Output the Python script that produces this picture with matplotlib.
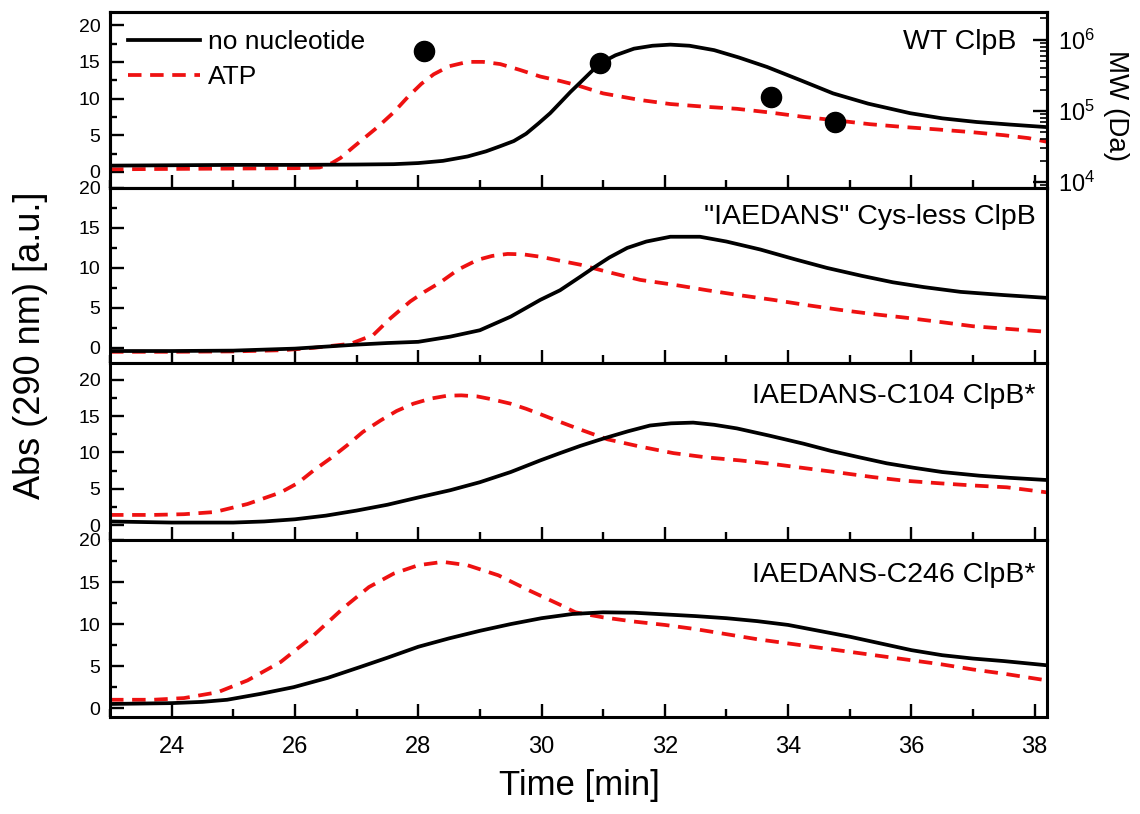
import matplotlib
matplotlib.use("Agg")
import matplotlib.pyplot as plt
from matplotlib.ticker import MultipleLocator, LogLocator, NullFormatter, FixedLocator

plt.rcParams['font.family'] = ['Liberation Sans', 'DejaVu Sans']
plt.rcParams['mathtext.default'] = 'regular'

# ---- elution profiles (time in min, absorbance at 290 nm in a.u.) ----
wt_none_t = [23.0, 24, 25, 26, 27, 27.6, 28.0, 28.4, 28.8, 29.1, 29.33, 29.55, 29.75, 29.95,
             30.14, 30.3, 30.47, 30.63, 30.8, 30.95, 31.2, 31.5, 31.8, 32.09, 32.4, 32.8, 33.2,
             33.66, 34.2, 34.73, 35.3, 35.98, 36.5, 37.06, 37.6, 38.2]
wt_none_a = [0.85, 0.9, 0.95, 0.95, 1.0, 1.05, 1.2, 1.5, 2.1, 2.8, 3.5, 4.2, 5.2, 6.6,
             8.0, 9.4, 10.9, 12.2, 13.6, 14.8, 15.9, 16.8, 17.2, 17.35, 17.2, 16.6, 15.6,
             14.3, 12.5, 10.7, 9.3, 8.0, 7.3, 6.8, 6.45, 6.1]
wt_atp_t = [23.0, 24, 25, 26, 26.4, 26.6, 26.74, 26.95, 27.34, 27.6, 27.83, 28.05, 28.25, 28.5,
            28.8, 29.05, 29.33, 29.65, 29.98, 30.3, 30.58, 31.0, 31.6, 32.09, 32.62, 33.17, 33.7,
            34.25, 34.8, 35.33, 35.9, 36.4, 37.0, 37.5, 37.9, 38.2]
wt_atp_a = [0.35, 0.4, 0.45, 0.5, 0.6, 1.2, 1.9, 3.4, 6.1, 8.1, 10.2, 12.0, 13.3, 14.4,
            15.0, 15.0, 14.7, 13.9, 13.0, 12.4, 11.8, 10.7, 9.8, 9.25, 8.9, 8.6, 8.1,
            7.5, 7.0, 6.5, 6.1, 5.8, 5.4, 5.0, 4.6, 4.1]

cysless_none_t = [23.0, 24, 25, 26, 26.5, 27.0, 27.5, 28.0, 28.52, 29.0, 29.5, 29.98, 30.3, 30.63,
                  30.84, 31.1, 31.39, 31.7, 32.09, 32.57, 33.0, 33.55, 34.1, 34.63, 35.2, 35.7,
                  36.2, 36.8, 37.5, 38.2]
cysless_none_a = [-0.4, -0.4, -0.35, -0.1, 0.15, 0.4, 0.6, 0.75, 1.4, 2.2, 3.9, 6.0, 7.2, 8.9,
                  10.0, 11.3, 12.5, 13.3, 13.9, 13.9, 13.3, 12.3, 11.1, 10.0, 9.0, 8.2,
                  7.6, 7.0, 6.6, 6.25]
cysless_atp_t = [23.0, 24, 25, 25.8, 26.3, 26.9, 27.27, 27.55, 27.87, 28.1, 28.36, 28.65, 28.96,
                 29.2, 29.45, 29.7, 29.98, 30.3, 30.63, 31.07, 31.6, 32.14, 32.69, 33.2, 33.76,
                 34.3, 34.84, 35.4, 35.93, 36.5, 37.0, 37.6, 38.2]
cysless_atp_a = [-0.5, -0.5, -0.45, -0.3, 0.0, 0.5, 1.6, 3.7, 5.8, 7.0, 8.2, 9.8, 11.0,
                 11.5, 11.75, 11.7, 11.4, 10.9, 10.4, 9.5, 8.5, 7.9, 7.2, 6.6, 6.0,
                 5.35, 4.75, 4.2, 3.75, 3.2, 2.7, 2.35, 2.0]

c104_none_t = [23.0, 24, 25.0, 25.5, 26.0, 26.5, 27.0, 27.5, 28.0, 28.52, 29.0, 29.5, 29.98, 30.3,
               30.63, 31.0, 31.4, 31.76, 32.1, 32.46, 32.8, 33.17, 33.7, 34.25, 34.7, 35.17, 35.6,
               36.03, 36.5, 37.1, 37.6, 38.2]
c104_none_a = [0.5, 0.35, 0.35, 0.5, 0.8, 1.3, 2.0, 2.8, 3.8, 4.8, 5.9, 7.3, 8.9, 9.9,
               10.9, 11.9, 12.9, 13.7, 14.0, 14.1, 13.8, 13.3, 12.3, 11.2, 10.2, 9.3, 8.5,
               7.9, 7.3, 6.8, 6.5, 6.2]
c104_atp_t = [23.0, 23.7, 24.2, 24.7, 25.23, 25.77, 26.05, 26.3, 26.58, 26.85, 27.1, 27.39, 27.65,
              27.92, 28.2, 28.47, 28.7, 28.96, 29.2, 29.5, 29.75, 30.03, 30.3, 30.58, 31.07, 31.6,
              32.14, 32.69, 33.22, 33.76, 34.3, 34.85, 35.38, 35.9, 36.46, 37.0, 37.55, 38.2]
c104_atp_a = [1.4, 1.4, 1.5, 1.8, 2.9, 4.5, 5.8, 7.5, 9.2, 11.0, 12.8, 14.4, 15.7,
              16.7, 17.4, 17.8, 17.85, 17.7, 17.3, 16.7, 16.0, 15.1, 14.2, 13.3, 11.8, 10.8,
              9.9, 9.3, 8.9, 8.4, 7.8, 7.2, 6.6, 6.1, 5.75, 5.45, 5.2, 4.5]

c246_none_t = [23.0, 23.5, 24.0, 24.5, 24.9, 25.44, 25.98, 26.53, 27.06, 27.5, 28.0, 28.5, 29.0,
               29.5, 30.0, 30.5, 31.0, 31.5, 32.0, 32.5, 33.0, 33.5, 34.0, 34.5, 35.0, 35.5,
               36.0, 36.5, 37.0, 37.5, 38.2]
c246_none_a = [0.5, 0.55, 0.6, 0.75, 1.0, 1.7, 2.5, 3.6, 4.9, 6.0, 7.3, 8.3, 9.2,
               10.0, 10.7, 11.2, 11.4, 11.35, 11.15, 10.95, 10.7, 10.35, 9.9, 9.2, 8.5, 7.7,
               6.9, 6.3, 5.9, 5.6, 5.1]
c246_atp_t = [23.0, 23.7, 24.2, 24.75, 25.23, 25.77, 26.25, 26.8, 27.2, 27.6, 28.0, 28.4, 28.8,
              29.3, 29.8, 30.3, 30.55, 31.0, 31.5, 32.0, 32.5, 33.0, 33.5, 34.0, 34.5, 35.0,
              35.5, 36.0, 36.5, 37.0, 37.5, 38.2]
c246_atp_a = [1.0, 1.0, 1.2, 1.9, 3.3, 5.5, 8.3, 12.0, 14.4, 16.0, 17.0, 17.4, 17.0,
              15.8, 14.0, 12.3, 11.4, 10.8, 10.3, 9.9, 9.4, 8.8, 8.2, 7.7, 7.2, 6.7,
              6.2, 5.7, 5.2, 4.6, 4.1, 3.3]

# molecular weight of WT ClpB fractions (Da)
mw_t = [28.1, 30.95, 33.72, 34.76]
mw_da = [7.0e5, 4.74e5, 1.57e5, 7.0e4]

panel_names = ['WT ClpB', '"IAEDANS" Cys-less ClpB', 'IAEDANS-C104 ClpB*', 'IAEDANS-C246 ClpB*']
series_labels = ['no nucleotide', 'ATP']
panels = [
    (wt_none_t, wt_none_a, wt_atp_t, wt_atp_a),
    (cysless_none_t, cysless_none_a, cysless_atp_t, cysless_atp_a),
    (c104_none_t, c104_none_a, c104_atp_t, c104_atp_a),
    (c246_none_t, c246_none_a, c246_atp_t, c246_atp_a),
]

# ---- layout (pixel boxes on a 1140 x 814 canvas) ----
W, H = 1140, 814
x0, x1 = 110, 1047
boxes = [(12, 188), (188, 363), (363, 540), (540, 717)]
ylims = [(-2.2, 21.8), (-1.9, 20.0), (-2.05, 22.3), (-1.05, 20.0)]
label_y = [42, 217, 396, 575]

fig = plt.figure(figsize=(W / 100, H / 100), dpi=100)
axes = []
for i, ((top, bot), curves) in enumerate(zip(boxes, panels)):
    ax = fig.add_axes([x0 / W, 1 - bot / H, (x1 - x0) / W, (bot - top) / H])
    axes.append(ax)
    tn, an, ta, aa = curves
    ax.plot(tn, an, color='black', lw=2.7, solid_joinstyle='round', label=series_labels[0], zorder=3)
    ax.plot(ta, aa, color='#ee1111', lw=2.7, dashes=(3.6, 2.3), label=series_labels[1], zorder=2)
    ax.set_xlim(23.0, 38.2)
    ax.set_ylim(*ylims[i])
    ax.xaxis.set_major_locator(MultipleLocator(2))
    ax.xaxis.set_minor_locator(MultipleLocator(1))
    ax.yaxis.set_major_locator(FixedLocator([0, 5, 10, 15, 20]))
    ax.yaxis.set_minor_locator(FixedLocator([2.5, 7.5, 12.5, 17.5]))
    ax.tick_params(axis='both', which='both', direction='in', width=1.7,
                   top=False, right=False)
    ax.tick_params(axis='x', which='major', length=9.5, labelsize=17, pad=14)
    ax.tick_params(axis='x', which='minor', length=5.5)
    ax.tick_params(axis='y', which='major', length=10, labelsize=14, pad=7)
    ax.tick_params(axis='y', which='minor', length=5)
    for sp in ax.spines.values():
        sp.set_linewidth(2.2)
    if i < 3:
        ax.tick_params(axis='x', labelbottom=False)
    ax.text(0.988 if i > 0 else 0.967, 1 - (label_y[i] - top) / (bot - top), panel_names[i],
            transform=ax.transAxes, ha='right', va='center', fontsize=20.5)

# legend in the first panel
leg = axes[0].legend(loc='upper left', frameon=False, fontsize=19, handlelength=2.7,
                     handletextpad=0.3, labelspacing=0.4, borderaxespad=0.3,
                     bbox_to_anchor=(0.0, 1.0))

# molecular-weight axis on the first panel
axr = axes[0].twinx()
axr.set_yscale('log')
axr.set_ylim(8.3e3, 2.46e6)
axr.plot(mw_t, mw_da, 'o', color='black', markersize=14.5, zorder=5)
axr.yaxis.set_major_locator(LogLocator(base=10, numticks=10))
axr.yaxis.set_minor_locator(LogLocator(base=10, subs=range(2, 10), numticks=30))
axr.yaxis.set_minor_formatter(NullFormatter())
axr.tick_params(axis='y', which='major', direction='in', length=10, width=1.7,
                labelsize=17, pad=8)
axr.tick_params(axis='y', which='minor', direction='in', length=5, width=1.2)
for sp in axr.spines.values():
    sp.set_linewidth(2.2)
axr.set_ylabel('MW (Da)', rotation=270, fontsize=20)
axr.yaxis.set_label_coords(1.088, 0.47)

fig.text(0.508, 1 - 785 / H, 'Time [min]', ha='center', va='center', fontsize=25)
fig.text(0.027, 1 - 345 / H, 'Abs (290 nm) [a.u.]', ha='center', va='center',
         rotation=90, fontsize=26)

fig.savefig('out.png', dpi=100)
